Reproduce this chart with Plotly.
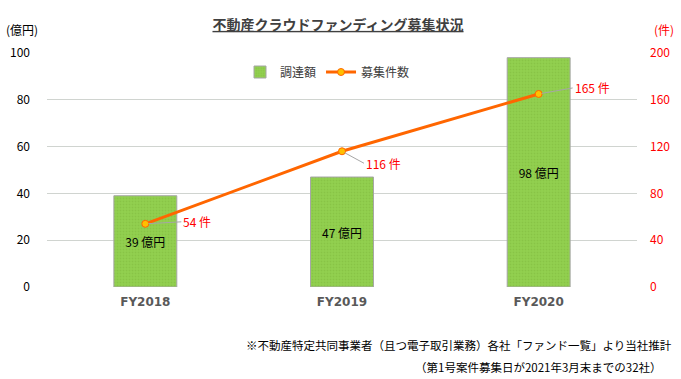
import plotly.graph_objects as go

categories = ["FY2018", "FY2019", "FY2020"]
amount = [39, 47, 98]          # 億円
count = [54, 116, 165]         # 件
amount_labels = ["39 億円", "47 億円", "98 億円"]
count_labels = ["54 件", "116 件", "165 件"]
left_ticks = [0, 20, 40, 60, 80, 100]
right_ticks = [0, 40, 80, 120, 160, 200]

FONT = "Noto Sans CJK JP"
L, R, T, B = 47, 44, 53, 92
PW, PH = 681 - L - R, 379 - T - B


def px(xp):
    return (xp - L) / PW


def py(yp):
    return (379 - B - yp) / PH


fig = go.Figure()
fig.add_trace(go.Bar(
    x=categories, y=amount, name="調達額",
    text=amount_labels, textposition="inside", insidetextanchor="middle",
    textfont=dict(color="#000000", size=12, family=FONT),
    marker=dict(color="#92D050", line=dict(color="#A6A6A6", width=1),
                pattern=dict(shape=".", fgcolor="#7DB83C", bgcolor="#92D050", size=3, solidity=0.3)),
    width=0.32, yaxis="y",
))
fig.add_trace(go.Scatter(
    x=categories, y=count, name="募集件数", mode="lines+markers",
    line=dict(color="#FF6600", width=3),
    marker=dict(size=7, color="#FFC000", line=dict(color="#FF6600", width=1)),
    yaxis="y2",
))

offsets = [(36, -2), (22, 12), (34, -6)]
for c, v, t, (ax, ay) in zip(categories, count, count_labels, offsets):
    fig.add_annotation(x=c, y=v, xref="x", yref="y2", text=t, showarrow=True,
                       arrowhead=0, arrowwidth=1, arrowcolor="#A6A6A6",
                       ax=ax, ay=ay, xanchor="left", standoff=3,
                       font=dict(color="#FF0000", size=12, family=FONT))

fig.update_layout(
    width=681, height=379,
    margin=dict(l=L, r=R, t=T, b=B, autoexpand=False),
    paper_bgcolor="white", plot_bgcolor="white",
    font=dict(family=FONT, size=12, color="#000000"),
    showlegend=True,
    title=dict(text="<u>不動産クラウドファンディング募集状況</u>", x=338 / 681, xanchor="center",
               y=1 - 25 / 379, yanchor="middle",
               font=dict(size=14, color="#404040", family=FONT, weight="bold")),
    legend=dict(orientation="h", x=px(240), xanchor="left", y=py(72), yanchor="middle",
                bgcolor="rgba(0,0,0,0)", font=dict(size=12, color="#404040"), itemwidth=30),
    xaxis=dict(tickfont=dict(size=12, color="#595959", family="DejaVu Sans", weight="bold"),
               ticklabelstandoff=6, showline=False),
    yaxis=dict(range=[0, 100], tickvals=left_ticks, showgrid=True, gridcolor="#D0D4D0",
               zeroline=False, tickfont=dict(size=12, color="#000000"), ticklabelstandoff=16),
    yaxis2=dict(range=[0, 200], tickvals=right_ticks, overlaying="y", side="right",
                showgrid=False, zeroline=False, tickfont=dict(size=12, color="#FF0000"), ticklabelstandoff=12),
)
fig.add_annotation(x=px(4), y=py(30), xref="paper", yref="paper", text="(億円)", showarrow=False,
                   xanchor="left", yanchor="middle", font=dict(size=12, color="#000000"))
fig.add_annotation(x=px(676), y=py(30), xref="paper", yref="paper", text="(件)", showarrow=False,
                   xanchor="right", yanchor="middle", font=dict(size=12, color="#FF0000"))
fig.add_annotation(x=px(674), y=py(345), xref="paper", yref="paper",
                   text="※不動産特定共同事業者（且つ電子取引業務）各社「ファンド一覧」より当社推計",
                   showarrow=False, xanchor="right", yanchor="middle", font=dict(size=11.5, color="#000000"))
fig.add_annotation(x=px(664), y=py(367), xref="paper", yref="paper",
                   text="（第1号案件募集日が2021年3月末までの32社）",
                   showarrow=False, xanchor="right", yanchor="middle", font=dict(size=11.5, color="#000000"))

fig.write_html("out.html", config={"displayModeBar": False},
               post_script="document.body.style.margin='0';document.body.style.overflow='hidden';")
